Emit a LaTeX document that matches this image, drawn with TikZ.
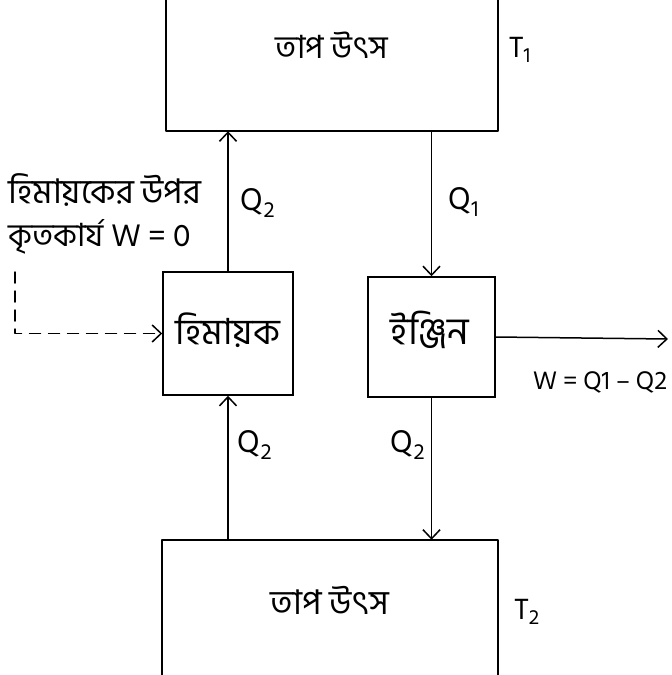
\documentclass[tikz,border=0pt]{standalone}
\usepackage{fontspec}
\setmainfont{Hind Siliguri}
\newfontfamily\bn[Script=Bengali]{Hind Siliguri}
\usetikzlibrary{arrows.meta}
\tikzset{
  ln/.style={line width=1.5pt, line cap=round, line join=round},
  arr/.style={ln, -{Straight Barb[length=9pt,width=17pt,line width=1.5pt]}},
  dsh/.style={arr, dash pattern=on 11pt off 8pt},
  region/.style={draw=none, inner sep=0pt},
  unit/.style={draw, line width=1.5pt, inner sep=0pt},
  bnt/.style={font=\bn\fontsize{30}{34}\selectfont, inner sep=0pt},
  lbl/.style={font=\fontsize{32}{36}\selectfont, inner sep=0pt},
  tlbl/.style={font=\fontsize{30}{34}\selectfont, inner sep=0pt},
}
\begin{document}
\begin{tikzpicture}[x=1pt,y=-1pt]
\useasboundingbox (0,0) rectangle (672,675);
% reservoirs (open at the image edge)
\node[region, minimum width=332pt, minimum height=131pt] (hot) at (332,65.5) {};
\node[region, minimum width=336pt, minimum height=135pt] (cold) at (330,607.5) {};
\draw[ln] (hot.north west) -- (hot.south west) -- (hot.south east) -- (hot.north east);
\draw[ln] (cold.south west) -- (cold.north west) -- (cold.north east) -- (cold.south east);
\node[bnt, font=\bn\fontsize{32}{36}\selectfont] (hottxt) at (332,45) {তাপ উৎস};
\node[bnt, font=\bn\fontsize{34}{38}\selectfont] (coldtxt) at (330,600) {তাপ উৎস};
\node[tlbl] (t1) at (520,50) {T\textsubscript{1}};
\node[tlbl] (t2) at (527,612) {T\textsubscript{2}};
% machines
\node[unit, minimum width=130pt, minimum height=123pt] (ref) at (228,333.5) {};
\node[unit, minimum width=127pt, minimum height=120pt] (eng) at (431.5,337) {};
\node[bnt, font=\bn\fontsize{36}{40}\selectfont] (reftxt) at (228,330) {হিমায়ক};
\node[bnt, font=\bn\fontsize{38}{42}\selectfont] (engtxt) at (430,330) {ইঞ্জিন};
% heat flows
\draw[arr] (ref.north) -- (ref.north |- hot.south);
\draw[arr] (eng.north |- hot.south) -- (eng.north);
\draw[arr] (eng.south) -- (eng.south |- cold.north);
\draw[arr] (ref.south |- cold.north) -- (ref.south);
\node[lbl] (q2a) at (258,203) {Q\textsubscript{2}};
\node[lbl] (q1) at (464,202) {Q\textsubscript{1}};
\node[lbl] (q2b) at (408,445) {Q\textsubscript{2}};
\node[lbl] (q2c) at (255,445) {Q\textsubscript{2}};
% work output
\coordinate (wend) at (668,339);
\draw[arr] (eng.east) -- (wend);
\node[lbl, font=\fontsize{26}{30}\selectfont] (wlbl) at (600,382) {W = Q1 – Q2};
% work on refrigerator
\coordinate (dstart) at (15,272);
\draw[dsh] (dstart) |- (ref.west);
\node[bnt, anchor=west, font=\bn\fontsize{34}{38}\selectfont] (wr1) at (8,190) {হিমায়কের উপর};
\node[bnt, anchor=west, font=\bn\fontsize{32}{36}\selectfont] (wr2) at (8,237) {কৃতকার্য W = 0};
\end{tikzpicture}
\end{document}
